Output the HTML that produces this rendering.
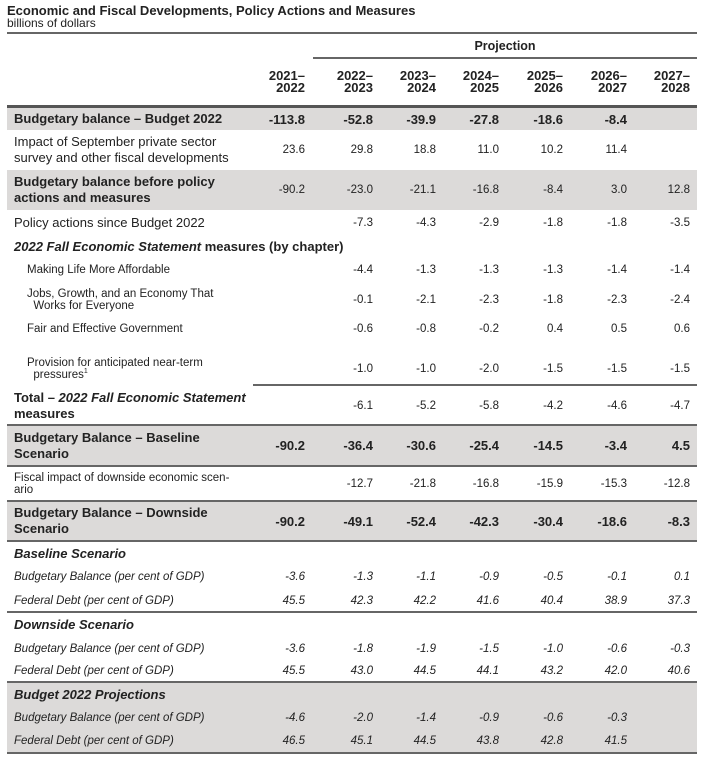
<!DOCTYPE html>
<html><head><meta charset="utf-8"><style>
body{margin:0;width:703px;height:757px;background:#fff;position:relative;overflow:hidden;font-family:"Liberation Sans",sans-serif;color:#222;}
.a{position:absolute;}
.r{position:absolute;left:7px;width:690px;}
.s{background:#dcdad9;}
.l{position:absolute;left:7px;top:0;height:100%;display:flex;align-items:center;font-size:12.5px;line-height:14px;}
.n{position:absolute;top:0;height:100%;display:flex;align-items:center;font-size:11.5px;}
.b{font-weight:bold;font-size:13px;}
.i{font-style:italic;}
.hl{position:absolute;height:2px;background:#666;}
.in{left:20px;font-size:11.5px;line-height:12px;}
.sm{font-size:11.5px;line-height:12px;}
.it{font-style:italic;font-size:11.5px;}
.hy{font-weight:bold;font-size:13px;line-height:12px;text-align:right;}
sup{font-size:7px;line-height:0;vertical-align:5px;}
</style></head><body>
<div class="a b" style="left:7px;top:3px;font-size:13px">Economic and Fiscal Developments, Policy Actions and Measures</div>
<div class="a" style="left:7px;top:16px;font-size:12px">billions of dollars</div>
<div class="hl" style="left:7px;top:32px;width:690px"></div>
<div class="a b" style="left:313px;width:384px;top:39px;text-align:center;font-size:12.5px">Projection</div>
<div class="hl" style="left:313px;top:57px;width:384px"></div>
<div class="a hy" style="right:398px;top:70px">2021–<br>2022</div>
<div class="a hy" style="right:330px;top:70px">2022–<br>2023</div>
<div class="a hy" style="right:267px;top:70px">2023–<br>2024</div>
<div class="a hy" style="right:204px;top:70px">2024–<br>2025</div>
<div class="a hy" style="right:140px;top:70px">2025–<br>2026</div>
<div class="a hy" style="right:76px;top:70px">2026–<br>2027</div>
<div class="a hy" style="right:13px;top:70px">2027–<br>2028</div>
<div class="a" style="left:7px;top:105px;width:690px;height:3px;background:#555"></div>

<div class="r s" style="top:108px;height:22px"><div class="l b">Budgetary balance – Budget 2022</div>
<div class="n b" style="right:392px">-113.8</div><div class="n b" style="right:324px">-52.8</div><div class="n b" style="right:261px">-39.9</div><div class="n b" style="right:198px">-27.8</div><div class="n b" style="right:134px">-18.6</div><div class="n b" style="right:70px">-8.4</div></div>

<div class="r" style="top:130px;height:40px"><div class="l" style="font-size:13px;line-height:16px"><div>Impact of September private sector<br>survey and other fiscal developments</div></div>
<div class="n" style="right:392px">23.6</div><div class="n" style="right:324px">29.8</div><div class="n" style="right:261px">18.8</div><div class="n" style="right:198px">11.0</div><div class="n" style="right:134px">10.2</div><div class="n" style="right:70px">11.4</div></div>

<div class="r s" style="top:170px;height:40px"><div class="l b" style="line-height:16px"><div>Budgetary balance before policy<br>actions and measures</div></div>
<div class="n" style="right:392px">-90.2</div><div class="n" style="right:324px">-23.0</div><div class="n" style="right:261px">-21.1</div><div class="n" style="right:198px">-16.8</div><div class="n" style="right:134px">-8.4</div><div class="n" style="right:70px">3.0</div><div class="n" style="right:7px">12.8</div></div>

<div class="r" style="top:210px;height:25px"><div class="l" style="font-size:13px">Policy actions since Budget 2022</div>
<div class="n" style="right:324px">-7.3</div><div class="n" style="right:261px">-4.3</div><div class="n" style="right:198px">-2.9</div><div class="n" style="right:134px">-1.8</div><div class="n" style="right:70px">-1.8</div><div class="n" style="right:7px">-3.5</div></div>

<div class="r" style="top:235px;height:23px"><div class="l b"><div><span class="i">2022 Fall Economic Statement</span> measures (by chapter)</div></div></div>

<div class="r" style="top:258px;height:24px"><div class="l in">Making Life More Affordable</div>
<div class="n" style="right:324px">-4.4</div><div class="n" style="right:261px">-1.3</div><div class="n" style="right:198px">-1.3</div><div class="n" style="right:134px">-1.3</div><div class="n" style="right:70px">-1.4</div><div class="n" style="right:7px">-1.4</div></div>

<div class="r" style="top:282px;height:36px"><div class="l in"><div>Jobs, Growth, and an Economy That<br>&nbsp;&nbsp;Works for Everyone</div></div>
<div class="n" style="right:324px">-0.1</div><div class="n" style="right:261px">-2.1</div><div class="n" style="right:198px">-2.3</div><div class="n" style="right:134px">-1.8</div><div class="n" style="right:70px">-2.3</div><div class="n" style="right:7px">-2.4</div></div>

<div class="r" style="top:318px;height:22px"><div class="l in">Fair and Effective Government</div>
<div class="n" style="right:324px">-0.6</div><div class="n" style="right:261px">-0.8</div><div class="n" style="right:198px">-0.2</div><div class="n" style="right:134px">0.4</div><div class="n" style="right:70px">0.5</div><div class="n" style="right:7px">0.6</div></div>

<div class="r" style="top:352px;height:34px"><div class="l in"><div>Provision for anticipated near-term<br>&nbsp;&nbsp;pressures<sup>1</sup></div></div>
<div class="n" style="right:324px">-1.0</div><div class="n" style="right:261px">-1.0</div><div class="n" style="right:198px">-2.0</div><div class="n" style="right:134px">-1.5</div><div class="n" style="right:70px">-1.5</div><div class="n" style="right:7px">-1.5</div></div>

<div class="hl" style="left:253px;top:384px;width:444px"></div>
<div class="r" style="top:386px;height:39px"><div class="l b" style="line-height:16px"><div>Total – <span class="i">2022 Fall Economic Statement</span><br>measures</div></div>
<div class="n" style="right:324px">-6.1</div><div class="n" style="right:261px">-5.2</div><div class="n" style="right:198px">-5.8</div><div class="n" style="right:134px">-4.2</div><div class="n" style="right:70px">-4.6</div><div class="n" style="right:7px">-4.7</div></div>

<div class="hl" style="left:7px;top:424px;width:690px"></div>
<div class="r s" style="top:426px;height:39px"><div class="l b" style="line-height:16px"><div>Budgetary Balance – Baseline<br>Scenario</div></div>
<div class="n b" style="right:392px">-90.2</div><div class="n b" style="right:324px">-36.4</div><div class="n b" style="right:261px">-30.6</div><div class="n b" style="right:198px">-25.4</div><div class="n b" style="right:134px">-14.5</div><div class="n b" style="right:70px">-3.4</div><div class="n b" style="right:7px">4.5</div></div>

<div class="hl" style="left:7px;top:465px;width:690px"></div>
<div class="r" style="top:467px;height:33px"><div class="l sm"><div>Fiscal impact of downside economic scen-<br>ario</div></div>
<div class="n" style="right:324px">-12.7</div><div class="n" style="right:261px">-21.8</div><div class="n" style="right:198px">-16.8</div><div class="n" style="right:134px">-15.9</div><div class="n" style="right:70px">-15.3</div><div class="n" style="right:7px">-12.8</div></div>

<div class="hl" style="left:7px;top:500px;width:690px"></div>
<div class="r s" style="top:502px;height:38px"><div class="l b" style="line-height:16px"><div>Budgetary Balance – Downside<br>Scenario</div></div>
<div class="n b" style="right:392px">-90.2</div><div class="n b" style="right:324px">-49.1</div><div class="n b" style="right:261px">-52.4</div><div class="n b" style="right:198px">-42.3</div><div class="n b" style="right:134px">-30.4</div><div class="n b" style="right:70px">-18.6</div><div class="n b" style="right:7px">-8.3</div></div>

<div class="hl" style="left:7px;top:540px;width:690px"></div>
<div class="r" style="top:542px;height:23px"><div class="l b i">Baseline Scenario</div></div>
<div class="r" style="top:565px;height:24px"><div class="l it">Budgetary Balance (per cent of GDP)</div>
<div class="n i" style="right:392px">-3.6</div><div class="n i" style="right:324px">-1.3</div><div class="n i" style="right:261px">-1.1</div><div class="n i" style="right:198px">-0.9</div><div class="n i" style="right:134px">-0.5</div><div class="n i" style="right:70px">-0.1</div><div class="n i" style="right:7px">0.1</div></div>
<div class="r" style="top:589px;height:23px"><div class="l it">Federal Debt (per cent of GDP)</div>
<div class="n i" style="right:392px">45.5</div><div class="n i" style="right:324px">42.3</div><div class="n i" style="right:261px">42.2</div><div class="n i" style="right:198px">41.6</div><div class="n i" style="right:134px">40.4</div><div class="n i" style="right:70px">38.9</div><div class="n i" style="right:7px">37.3</div></div>

<div class="hl" style="left:7px;top:611px;width:690px"></div>
<div class="r" style="top:613px;height:24px"><div class="l b i">Downside Scenario</div></div>
<div class="r" style="top:637px;height:23px"><div class="l it">Budgetary Balance (per cent of GDP)</div>
<div class="n i" style="right:392px">-3.6</div><div class="n i" style="right:324px">-1.8</div><div class="n i" style="right:261px">-1.9</div><div class="n i" style="right:198px">-1.5</div><div class="n i" style="right:134px">-1.0</div><div class="n i" style="right:70px">-0.6</div><div class="n i" style="right:7px">-0.3</div></div>
<div class="r" style="top:660px;height:22px"><div class="l it">Federal Debt (per cent of GDP)</div>
<div class="n i" style="right:392px">45.5</div><div class="n i" style="right:324px">43.0</div><div class="n i" style="right:261px">44.5</div><div class="n i" style="right:198px">44.1</div><div class="n i" style="right:134px">43.2</div><div class="n i" style="right:70px">42.0</div><div class="n i" style="right:7px">40.6</div></div>

<div class="hl" style="left:7px;top:681px;width:690px"></div>
<div class="r s" style="top:683px;height:69px"></div>
<div class="r" style="top:683px;height:23px"><div class="l b i">Budget 2022 Projections</div></div>
<div class="r" style="top:706px;height:23px"><div class="l it">Budgetary Balance (per cent of GDP)</div>
<div class="n i" style="right:392px">-4.6</div><div class="n i" style="right:324px">-2.0</div><div class="n i" style="right:261px">-1.4</div><div class="n i" style="right:198px">-0.9</div><div class="n i" style="right:134px">-0.6</div><div class="n i" style="right:70px">-0.3</div></div>
<div class="r" style="top:729px;height:23px"><div class="l it">Federal Debt (per cent of GDP)</div>
<div class="n i" style="right:392px">46.5</div><div class="n i" style="right:324px">45.1</div><div class="n i" style="right:261px">44.5</div><div class="n i" style="right:198px">43.8</div><div class="n i" style="right:134px">42.8</div><div class="n i" style="right:70px">41.5</div></div>
<div class="hl" style="left:7px;top:752px;width:690px"></div>
</body></html>
